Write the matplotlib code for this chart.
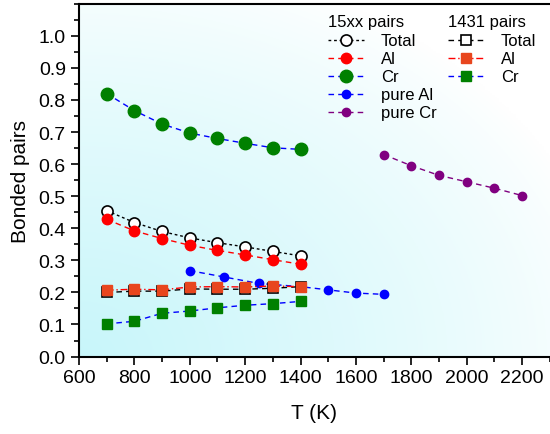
import numpy as np
import matplotlib.pyplot as plt

plt.rcParams['font.family'] = ['Liberation Sans', 'DejaVu Sans']

# 15xx pairs
T15 = [700, 800, 900, 1000, 1100, 1200, 1300, 1400]
total15 = [0.455, 0.418, 0.390, 0.370, 0.355, 0.342, 0.328, 0.314]
al15 = [0.428, 0.392, 0.368, 0.347, 0.331, 0.317, 0.302, 0.288]
cr15 = [0.820, 0.767, 0.725, 0.697, 0.680, 0.665, 0.651, 0.646]

T_pure_al = [1000, 1125, 1250, 1400, 1500, 1600, 1700]
pure_al = [0.268, 0.248, 0.228, 0.218, 0.208, 0.198, 0.194]
T_pure_cr = [1700, 1800, 1900, 2000, 2100, 2200]
pure_cr = [0.630, 0.595, 0.565, 0.545, 0.525, 0.502]

# 1431 pairs
T1431 = [700, 800, 900, 1000, 1100, 1200, 1300, 1400]
total1431 = [0.200, 0.204, 0.204, 0.211, 0.210, 0.210, 0.213, 0.218]
al1431 = [0.207, 0.210, 0.208, 0.217, 0.218, 0.217, 0.220, 0.218]
cr1431 = [0.102, 0.110, 0.135, 0.142, 0.152, 0.160, 0.165, 0.172]

xlim = (600, 2300)
ylim = (0, 1.1)

fig = plt.figure(figsize=(5.5, 4.35), dpi=100)
ax = fig.add_axes([0.1436, 0.178, 0.856, 0.811])

# background gradient, cyan at lower left fading to white
u, v = np.meshgrid(np.linspace(0, 1, 200), np.linspace(0, 1, 200))
d = np.sqrt(u**2 + v**2)
t = np.clip(1 - d / 1.15, 0, 1) ** 0.8
c0 = np.array([1.0, 1.0, 1.0])
c1 = np.array([200, 246, 250]) / 255.0
img = c0[None, None, :] * (1 - t[..., None]) + c1[None, None, :] * t[..., None]
ax.imshow(img, extent=[xlim[0], xlim[1], ylim[0], ylim[1]], origin='lower',
          aspect='auto', zorder=0)

orange = '#e8461e'
h_tot15, = ax.plot(T15, total15, ls=(0, (2, 2)), color='black', lw=1, marker='o',
                   ms=8, mfc='white', mec='black', mew=1.2, label='Total')
h_al15, = ax.plot(T15, al15, ls=(0, (4, 3)), color='red', lw=1, marker='o',
                  ms=7.5, mfc='red', mec='red', label='Al')
h_cr15, = ax.plot(T15, cr15, ls=(0, (4, 3)), color='blue', lw=1, marker='o',
                  ms=9, mfc='green', mec='green', label='Cr')
h_pal, = ax.plot(T_pure_al, pure_al, ls=(0, (4, 3)), color='blue', lw=1, marker='o',
                 ms=6, mfc='blue', mec='blue', label='pure Al')
h_pcr, = ax.plot(T_pure_cr, pure_cr, ls=(0, (4, 3)), color='purple', lw=1, marker='o',
                 ms=6, mfc='purple', mec='purple', label='pure Cr')

h_tot14, = ax.plot(T1431, total1431, ls=(0, (4, 3)), color='black', lw=1, marker='s',
                   ms=7, mfc='white', mec='black', mew=1.2, label='Total')
h_al14, = ax.plot(T1431, al1431, ls=(0, (5, 2, 1, 2)), color='red', lw=1, marker='s',
                  ms=7.5, mfc=orange, mec=orange, label='Al')
h_cr14, = ax.plot(T1431, cr1431, ls=(0, (4, 3)), color='blue', lw=1, marker='s',
                  ms=7.5, mfc='green', mec='green', label='Cr')

ax.set_xlim(*xlim)
ax.set_ylim(*ylim)
ax.set_xticks(np.arange(600, 2201, 200))
ax.set_xticks(np.arange(600, 2301, 100), minor=True)
ax.set_yticks(np.arange(0, 1.01, 0.1))
ax.set_yticks(np.arange(0, 1.101, 0.05), minor=True)
ax.yaxis.set_major_formatter(plt.FormatStrFormatter('%.1f'))
ax.tick_params(which='major', direction='out', length=6, width=1.2, labelsize=14)
ax.tick_params(which='minor', direction='out', length=3.5, width=1.2)
ax.tick_params(axis='x', pad=3)
for s in ax.spines.values():
    s.set_linewidth(1.5)
ax.spines['right'].set_visible(False)

ax.set_xlabel('T (K)', fontsize=15, labelpad=12)
ax.set_ylabel('Bonded pairs', fontsize=15, labelpad=6)

leg1 = ax.legend(handles=[h_tot15, h_al15, h_cr15, h_pal, h_pcr], title='15xx pairs',
                 loc='upper left', bbox_to_anchor=(0.50, 1.008), frameon=False,
                 fontsize=12, title_fontsize=12, handlelength=2.2, handletextpad=1.0,
                 labelspacing=0.18, borderpad=0.3)
leg1._legend_box.align = 'left'
leg1._legend_box.sep = 3
ax.add_artist(leg1)
leg2 = ax.legend(handles=[h_tot14, h_al14, h_cr14], title='1431 pairs',
                 loc='upper left', bbox_to_anchor=(0.755, 1.008), frameon=False,
                 fontsize=12, title_fontsize=12, handlelength=2.2, handletextpad=1.0,
                 labelspacing=0.18, borderpad=0.3)
leg2._legend_box.align = 'left'
leg2._legend_box.sep = 3

fig.savefig('out.png', dpi=100)
